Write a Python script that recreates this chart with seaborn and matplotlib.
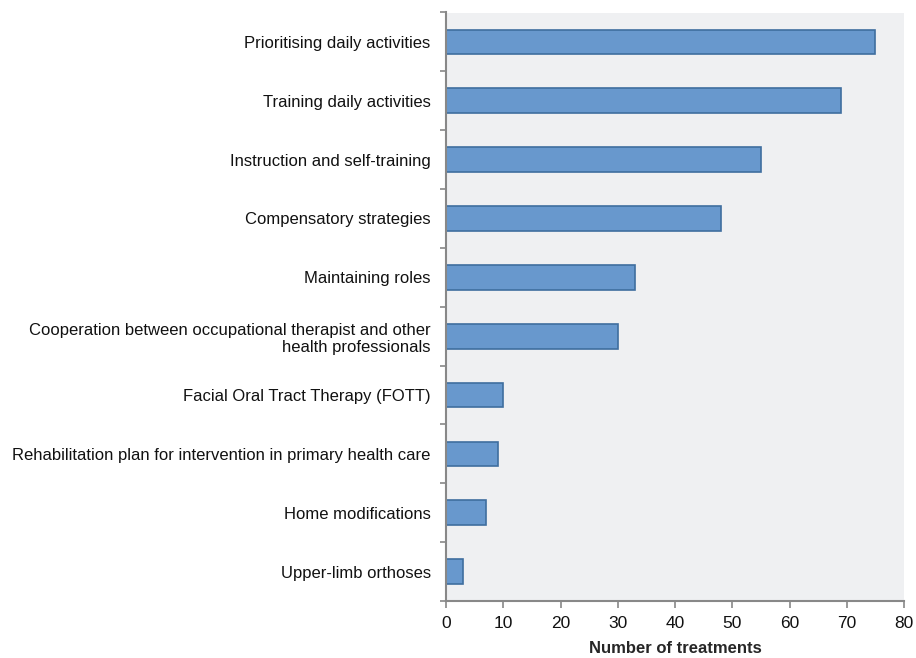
import matplotlib
matplotlib.use("Agg")
import matplotlib.pyplot as plt
import seaborn as sns
import pandas as pd

categories = [
    "Prioritising daily activities",
    "Training daily activities",
    "Instruction and self-training",
    "Compensatory strategies",
    "Maintaining roles",
    "Cooperation between occupational therapist and other\nhealth professionals",
    "Facial Oral Tract Therapy (FOTT)",
    "Rehabilitation plan for intervention in primary health care",
    "Home modifications",
    "Upper-limb orthoses",
]
values = [75, 69, 55, 48, 33, 30, 10, 9, 7, 3]
x_ticks = [0, 10, 20, 30, 40, 50, 60, 70, 80]

sns.set_theme(style="white")
plt.rcParams["font.family"] = ["Liberation Sans", "DejaVu Sans"]

df = pd.DataFrame({"category": categories, "value": values})

fig = plt.figure(figsize=(9.16, 6.58), dpi=100)
ax = fig.add_axes([446 / 916, 1 - 601 / 658, (904 - 446) / 916, (601 - 12.5) / 658])
ax.set_facecolor("#EFF0F2")

sns.barplot(data=df, x="value", y="category", orient="h", color="#6898CD",
            edgecolor="#3F6E9F", linewidth=1.2, width=0.42, saturation=1, ax=ax)

ax.set_xlim(0, 80)
ax.set_ylim(len(categories) - 0.5, -0.5)
ax.set_xticks(x_ticks)
ax.set_xticklabels([str(t) for t in x_ticks], fontsize=12.5, color="#111111")
ax.set_xlabel("Number of treatments", fontsize=12, fontweight="bold", labelpad=7)
ax.set_ylabel("")

# category labels at centers, tick marks at boundaries
ax.set_yticks(range(len(categories)))
ax.set_yticklabels(categories, fontsize=12, color="#111111", ha="right")
ax.tick_params(axis="y", which="major", left=True, length=0, pad=11)
ax.set_yticks([i - 0.5 for i in range(len(categories) + 1)], minor=True)
ax.tick_params(axis="y", which="minor", left=True, length=4, width=1.2,
               color="#888888", direction="out")
ax.tick_params(axis="x", which="major", bottom=True, length=5, width=1.2,
               color="#888888", direction="out", pad=6)

for s in ["top", "right"]:
    ax.spines[s].set_visible(False)
for s in ["left", "bottom"]:
    ax.spines[s].set_visible(True)
    ax.spines[s].set_color("#888888")
    ax.spines[s].set_linewidth(1.5)

fig.savefig("out.png", dpi=100)
